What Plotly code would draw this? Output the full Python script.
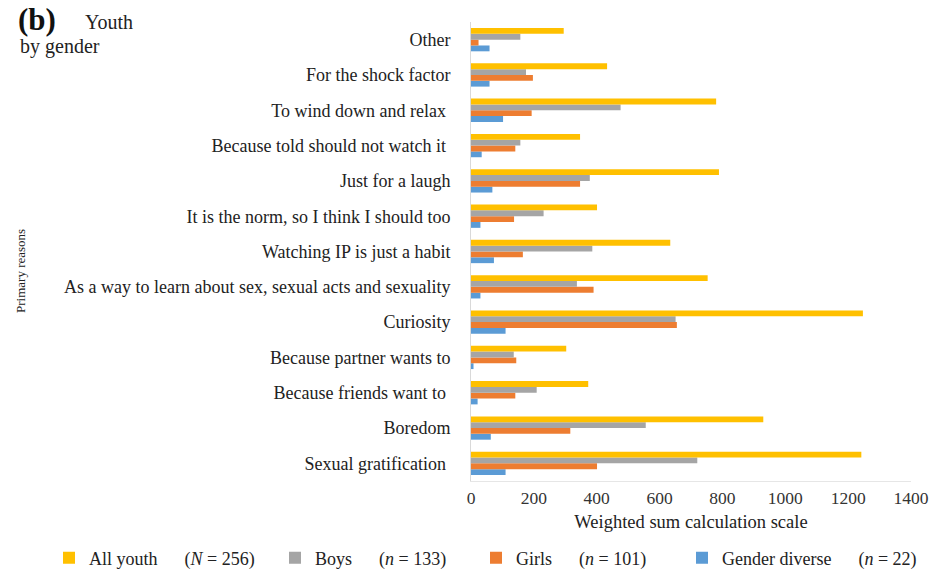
import plotly.graph_objects as go

categories = [
    "Sexual gratification ",
    "Boredom",
    "Because friends want to ",
    "Because partner wants to",
    "Curiosity",
    "As a way to learn about sex, sexual acts and sexuality",
    "Watching IP is just a habit",
    "It is the norm, so I think I should too",
    "Just for a laugh",
    "Because told should not watch it ",
    "To wind down and relax ",
    "For the shock factor",
    "Other",
]
all_youth = [1242, 930, 373, 303, 1247, 753, 634, 401, 789, 347, 780, 433, 295]
boys = [720, 556, 209, 136, 651, 337, 386, 231, 378, 157, 476, 175, 157]
girls = [401, 316, 141, 144, 655, 390, 165, 137, 347, 141, 193, 197, 24]
gender_diverse = [110, 63, 21, 8, 110, 30, 73, 30, 68, 34, 102, 59, 59]

SP = "&nbsp;" * 6
series_names = [
    f"Gender diverse{SP}(<i>n</i> = 22)",
    f"Girls{SP}(<i>n</i> = 101)",
    f"Boys{SP}(<i>n</i> = 133)",
    f"All youth{SP}(<i>N</i> = 256)",
]
series_values = [gender_diverse, girls, boys, all_youth]
colors = ["#5B9BD5", "#ED7D31", "#A5A5A5", "#FFC000"]
legend_ids = ["legend4", "legend3", "legend2", "legend"]
legend_left_px = {"legend": 49, "legend2": 275, "legend3": 476, "legend4": 682}
x_ticks = [0, 200, 400, 600, 800, 1000, 1200, 1400]

FONT = "Liberation Serif, Times New Roman, serif"
W, H = 945, 572

fig = go.Figure()
for name, vals, col, lg in zip(series_names, series_values, colors, legend_ids):
    fig.add_trace(go.Bar(
        y=categories, x=vals, name=name, orientation="h", legend=lg,
        marker=dict(color=col, line=dict(width=0)),
    ))

legend_common = dict(
    orientation="h", xref="container", yref="container",
    y=1 - 558 / H, xanchor="left", yanchor="middle",
    font=dict(family=FONT, size=18, color="#222222"),
    itemwidth=30, bgcolor="rgba(0,0,0,0)",
)
layout_legends = {k: dict(legend_common, x=v / W) for k, v in legend_left_px.items()}

fig.update_layout(
    width=W, height=H,
    margin=dict(l=471, r=34, t=22, b=91, autoexpand=False),
    paper_bgcolor="white", plot_bgcolor="white",
    barmode="group", bargap=0.34, bargroupgap=0,
    font=dict(family=FONT, color="#222222", size=16),
    showlegend=True,
    **layout_legends,
)

fig.update_xaxes(
    range=[0, 1400], tickvals=x_ticks, ticktext=[str(t) for t in x_ticks],
    showgrid=False, zeroline=False, showline=True, linecolor="#E6E6E6",
    linewidth=1, mirror=False, ticks="", ticklabelstandoff=1, automargin=False,
    tickfont=dict(family=FONT, size=17.5, color="#333333"),
    title=dict(text="Weighted sum calculation scale", standoff=8,
               font=dict(family=FONT, size=18.5, color="#222222")),
)
fig.update_yaxes(
    type="category", categoryorder="array", categoryarray=categories,
    showgrid=False, zeroline=False, showline=True, linecolor="#D9D9D9",
    linewidth=1, ticks="", ticklabelstandoff=16, automargin=False,
    tickfont=dict(family=FONT, size=18, color="#222222"),
)

def px_x(x):
    return (x - 471) / 440

def px_y(y):
    return (481 - y) / 459

fig.add_annotation(
    xref="paper", yref="paper", x=px_x(20), y=px_y(271), text="Primary reasons",
    textangle=-90, showarrow=False, font=dict(family=FONT, size=13, color="#222222"),
    xanchor="center", yanchor="middle",
)
fig.add_annotation(
    xref="paper", yref="paper", x=px_x(16), y=px_y(19),
    text="<b>(b)</b>", showarrow=False, xanchor="left", yanchor="middle",
    font=dict(family=FONT, size=31, color="#111111"),
)
fig.add_annotation(
    xref="paper", yref="paper", x=px_x(83), y=px_y(22),
    text="Youth", showarrow=False, xanchor="left", yanchor="middle",
    font=dict(family=FONT, size=20, color="#222222"),
)
fig.add_annotation(
    xref="paper", yref="paper", x=px_x(18), y=px_y(46),
    text="by gender", showarrow=False, xanchor="left", yanchor="middle",
    font=dict(family=FONT, size=20, color="#222222"),
)

fig.write_html("out.html")
